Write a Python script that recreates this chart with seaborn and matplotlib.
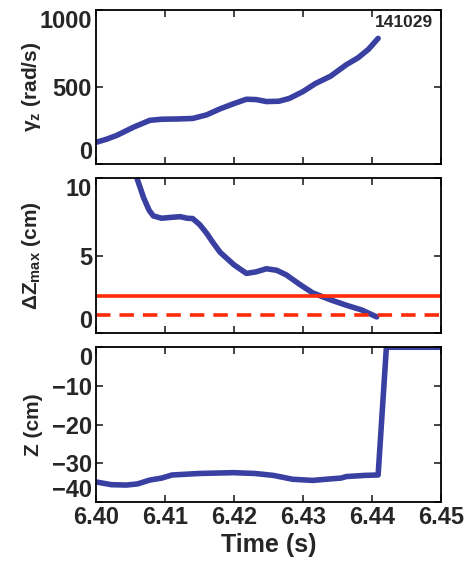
import numpy as np
import pandas as pd
import seaborn as sns
import matplotlib.pyplot as plt

# growth rate gamma_z (rad/s)
t_gamma = [6.400, 6.4015, 6.403, 6.4055, 6.4078, 6.4095, 6.412, 6.414, 6.416, 6.4180,
           6.4200, 6.4218, 6.4232, 6.4247, 6.4265, 6.428, 6.4300, 6.4318, 6.4340,
           6.4363, 6.4380, 6.4395, 6.4409]
gamma = [140, 160, 185, 240, 283, 290, 292, 295, 318, 358,
         392, 420, 418, 405, 407, 425, 470, 522, 570,
         645, 690, 745, 816]

# Delta Z_max (cm)
t_dz = [6.4059, 6.4069, 6.4077, 6.4083, 6.4095, 6.4107, 6.4122, 6.4132, 6.4140, 6.4150,
        6.4160, 6.4170, 6.4180, 6.4200, 6.4218, 6.4232, 6.4247, 6.4262, 6.4276, 6.4295,
        6.4314, 6.4340, 6.4363, 6.4385, 6.4407]
dz = [10.0, 8.7, 7.9, 7.55, 7.4, 7.45, 7.5, 7.4, 7.38, 7.0,
      6.45, 5.8, 5.2, 4.4, 3.85, 3.95, 4.15, 4.05, 3.75, 3.15,
      2.6, 2.15, 1.8, 1.5, 1.05]
dz_limit_solid = 2.4
dz_limit_dashed = 1.2

# vertical position Z (cm)
t_z = [6.400, 6.4022, 6.4044, 6.4060, 6.4078, 6.4095, 6.411, 6.4150, 6.4199, 6.4230,
       6.4257, 6.4285, 6.4314, 6.4340, 6.4355, 6.4363, 6.4390, 6.4409, 6.4421, 6.4450, 6.4500]
z = [-34.8, -35.5, -35.6, -35.3, -34.3, -33.8, -33.0, -32.6, -32.4, -32.6,
     -33.1, -34.1, -34.4, -34.0, -33.8, -33.4, -33.1, -33.0, 0.0, 0.0, 0.0]

shot = "141029"
blue = "#3a3fa2"
red = "#ff2a08"

sns.set_style("ticks")
plt.rcParams["font.family"] = ["Liberation Sans", "DejaVu Sans"]
plt.rcParams["font.weight"] = "bold"
plt.rcParams["axes.labelweight"] = "bold"
plt.rcParams["axes.linewidth"] = 1.3
plt.rcParams["mathtext.fontset"] = "custom"
plt.rcParams["mathtext.rm"] = "Liberation Sans"
plt.rcParams["mathtext.bf"] = "Liberation Sans:bold"
plt.rcParams["mathtext.it"] = "Liberation Sans:italic"

fig = plt.figure(figsize=(4.69, 5.61), dpi=100)
left, width = 0.205, 0.735
ax1 = fig.add_axes([left, 0.708, width, 0.274])
ax2 = fig.add_axes([left, 0.406, width, 0.277])
ax3 = fig.add_axes([left, 0.105, width, 0.276])

sns.lineplot(x=t_gamma, y=gamma, ax=ax1, color=blue, lw=4, sort=False)
sns.lineplot(x=t_dz, y=dz, ax=ax2, color=blue, lw=4, sort=False)
ax2.axhline(dz_limit_solid, color=red, lw=2.6)
ax2.axhline(dz_limit_dashed, color=red, lw=2.6, ls=(0, (4, 2.5)))
sns.lineplot(x=t_z, y=z, ax=ax3, color=blue, lw=4, sort=False)

ax1.text(6.4405, 920, shot, fontsize=12.5, fontweight="bold", va="center", ha="left")

ax1.set_ylim(0, 1000)
ax1.set_yticks([0, 500, 1000])
ax2.set_ylim(0, 10)
ax2.set_yticks([0, 5, 10])
ax3.set_ylim(-40, 0)
ax3.set_yticks([-40, -30, -20, -10, 0])
ax3.set_yticklabels(["\u221240", "\u221230", "\u221220", "\u221210", "0"])

ax1.set_ylabel(r"$\mathrm{\gamma}_\mathbf{z}$ (rad/s)", fontsize=15)
ax2.set_ylabel(r"$\mathbf{\Delta Z_{max}}$ (cm)", fontsize=15)
ax3.set_ylabel("Z (cm)", fontsize=15)
ax3.set_xlabel("Time (s)", fontsize=18, labelpad=3)

xt = [6.40, 6.41, 6.42, 6.43, 6.44, 6.45]
for ax in (ax1, ax2, ax3):
    ax.set_xlim(6.40, 6.45)
    ax.set_xticks(xt)
    ax.tick_params(direction="in", top=True, right=True, length=5, width=1.2,
                   labelsize=17, pad=3)
    ax.yaxis.set_label_coords(-0.155, 0.5)
    for s in ax.spines.values():
        s.set_color("black")
    # end labels nudged inward like the original
    labs = ax.get_yticklabels()
    labs[0].set_va("bottom")
    labs[-1].set_va("top")
ax1.set_xticklabels([])
ax2.set_xticklabels([])
ax3.set_xticklabels([f"{v:.2f}" for v in xt])

fig.savefig("out.png", dpi=100)
